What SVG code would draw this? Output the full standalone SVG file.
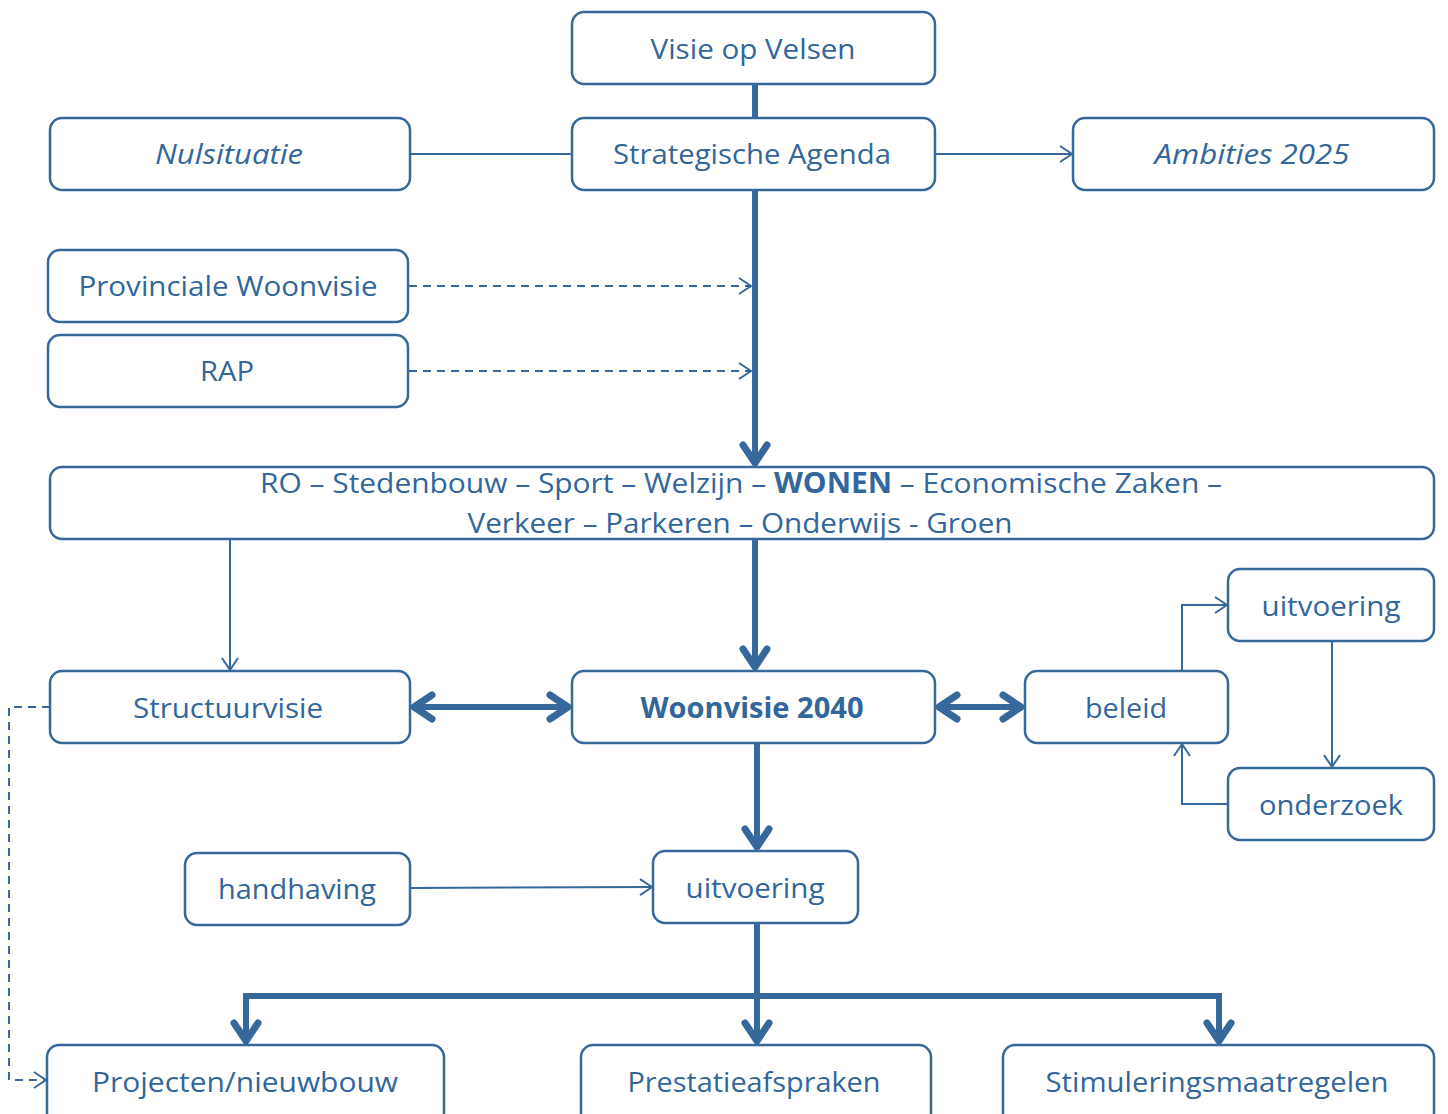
<svg xmlns="http://www.w3.org/2000/svg" width="1448" height="1114" viewBox="0 0 1448 1114">
<style>
.box{fill:#fff;stroke:#36689b;stroke-width:2.5}
.t{font-family:"Open Sans","Liberation Sans",sans-serif;font-size:28px;fill:#33669a;text-anchor:middle}
.it{font-style:italic}
.b{font-weight:bold}
.thin{fill:none;stroke:#36689b;stroke-width:2}
.thick{fill:none;stroke:#36689b;stroke-width:6}
.dash{fill:none;stroke:#36689b;stroke-width:2;stroke-dasharray:8,6}
</style>
<defs>
<marker id="ta" markerUnits="userSpaceOnUse" markerWidth="20" markerHeight="24" viewBox="-14 -12 16 24" refX="0" refY="0" orient="auto">
<path d="M-12,-8 L0,0 L-12,8" fill="none" stroke="#36689b" stroke-width="2"/>
</marker>
<marker id="ka" markerUnits="userSpaceOnUse" markerWidth="40" markerHeight="40" viewBox="-20 -20 26 40" refX="0" refY="0" orient="auto">
<path d="M-20,-12 L-2,0 L-20,12" fill="none" stroke="#36689b" stroke-width="7" stroke-linecap="round" stroke-linejoin="round"/>
</marker>
<marker id="kas" markerUnits="userSpaceOnUse" markerWidth="40" markerHeight="40" viewBox="-20 -20 26 40" refX="0" refY="0" orient="auto-start-reverse">
<path d="M-20,-12 L-2,0 L-20,12" fill="none" stroke="#36689b" stroke-width="7" stroke-linecap="round" stroke-linejoin="round"/>
</marker>
</defs>
<g id="connectors">
<line class="thick" x1="755" y1="84" x2="755" y2="118"/>
<line class="thin" x1="410" y1="154" x2="572" y2="154"/>
<line class="thin" x1="935" y1="154" x2="1072" y2="154" marker-end="url(#ta)"/>
<line class="thick" x1="755" y1="190" x2="755" y2="465" marker-end="url(#ka)"/>
<line class="dash" x1="409" y1="286" x2="751" y2="286" marker-end="url(#ta)"/>
<line class="dash" x1="409" y1="371" x2="751" y2="371" marker-end="url(#ta)"/>
<line class="thin" x1="230" y1="539" x2="230" y2="670" marker-end="url(#ta)"/>
<line class="thick" x1="755" y1="539" x2="755" y2="669" marker-end="url(#ka)"/>
<line class="thick" x1="412" y1="707" x2="570" y2="707" marker-start="url(#kas)" marker-end="url(#ka)"/>
<line class="thick" x1="937" y1="707" x2="1023" y2="707" marker-start="url(#kas)" marker-end="url(#ka)"/>
<polyline class="thin" points="1182,671 1182,605 1227,605" marker-end="url(#ta)"/>
<line class="thin" x1="1332" y1="641" x2="1332" y2="767" marker-end="url(#ta)"/>
<polyline class="thin" points="1228,804 1182,804 1182,744" marker-end="url(#ta)"/>
<line class="thick" x1="757" y1="743" x2="757" y2="849" marker-end="url(#ka)"/>
<line class="thin" x1="410" y1="888" x2="652" y2="887" marker-end="url(#ta)"/>
<line class="thick" x1="757" y1="923" x2="757" y2="1043" marker-end="url(#ka)"/>
<polyline class="thick" points="246,1043 246,996 1219,996 1219,1043" marker-start="url(#kas)" marker-end="url(#ka)"/>
<polyline class="dash" points="50,707 9,707 9,1080 46,1080" marker-end="url(#ta)"/>
</g>
<g id="visie"><rect class="box" x="572" y="12" width="363" height="72" rx="12"/><text class="t" x="753" y="59" textLength="205" lengthAdjust="spacingAndGlyphs">Visie op Velsen</text></g>
<g id="strategische"><rect class="box" x="572" y="118" width="363" height="72" rx="12"/><text class="t" x="752" y="164" textLength="278" lengthAdjust="spacingAndGlyphs">Strategische Agenda</text></g>
<g id="nulsituatie"><rect class="box" x="50" y="118" width="360" height="72" rx="12"/><text class="t it" x="229" y="164" textLength="148" lengthAdjust="spacingAndGlyphs">Nulsituatie</text></g>
<g id="ambities"><rect class="box" x="1073" y="118" width="361" height="72" rx="12"/><text class="t it" x="1252" y="164" textLength="195" lengthAdjust="spacingAndGlyphs">Ambities 2025</text></g>
<g id="provinciale"><rect class="box" x="48" y="250" width="360" height="72" rx="12"/><text class="t" x="228" y="296" textLength="299" lengthAdjust="spacingAndGlyphs">Provinciale Woonvisie</text></g>
<g id="rap"><rect class="box" x="48" y="335" width="360" height="72" rx="12"/><text class="t" x="227" y="381" textLength="54" lengthAdjust="spacingAndGlyphs">RAP</text></g>
<g id="sectoren"><rect class="box" x="50" y="467" width="1384" height="72" rx="12"/>
<text class="t" x="741" y="493" textLength="962" lengthAdjust="spacingAndGlyphs">RO – Stedenbouw – Sport – Welzijn – <tspan class="b">WONEN</tspan> – Economische Zaken –</text>
<text class="t" x="740" y="533" textLength="545" lengthAdjust="spacingAndGlyphs">Verkeer – Parkeren – Onderwijs - Groen</text></g>
<g id="structuurvisie"><rect class="box" x="50" y="671" width="360" height="72" rx="12"/><text class="t" x="228" y="718" textLength="190" lengthAdjust="spacingAndGlyphs">Structuurvisie</text></g>
<g id="woonvisie"><rect class="box" x="572" y="671" width="363" height="72" rx="12"/><text class="t b" x="752" y="718" textLength="223" lengthAdjust="spacingAndGlyphs">Woonvisie 2040</text></g>
<g id="beleid"><rect class="box" x="1025" y="671" width="203" height="72" rx="12"/><text class="t" x="1126" y="718" textLength="82" lengthAdjust="spacingAndGlyphs">beleid</text></g>
<g id="uitvoering-r"><rect class="box" x="1228" y="569" width="206" height="72" rx="12"/><text class="t" x="1331" y="616" textLength="139" lengthAdjust="spacingAndGlyphs">uitvoering</text></g>
<g id="onderzoek"><rect class="box" x="1228" y="768" width="206" height="72" rx="12"/><text class="t" x="1331" y="815" textLength="144" lengthAdjust="spacingAndGlyphs">onderzoek</text></g>
<g id="handhaving"><rect class="box" x="185" y="853" width="225" height="72" rx="12"/><text class="t" x="297" y="899" textLength="158" lengthAdjust="spacingAndGlyphs">handhaving</text></g>
<g id="uitvoering-m"><rect class="box" x="653" y="851" width="205" height="72" rx="12"/><text class="t" x="755" y="898" textLength="139" lengthAdjust="spacingAndGlyphs">uitvoering</text></g>
<g id="projecten"><rect class="box" x="47" y="1045" width="397" height="80" rx="12"/><text class="t" x="245" y="1092" textLength="306" lengthAdjust="spacingAndGlyphs">Projecten/nieuwbouw</text></g>
<g id="prestatie"><rect class="box" x="581" y="1045" width="350" height="80" rx="12"/><text class="t" x="754" y="1092" textLength="253" lengthAdjust="spacingAndGlyphs">Prestatieafspraken</text></g>
<g id="stimulering"><rect class="box" x="1003" y="1045" width="431" height="80" rx="12"/><text class="t" x="1217" y="1092" textLength="343" lengthAdjust="spacingAndGlyphs">Stimuleringsmaatregelen</text></g>
</svg>
